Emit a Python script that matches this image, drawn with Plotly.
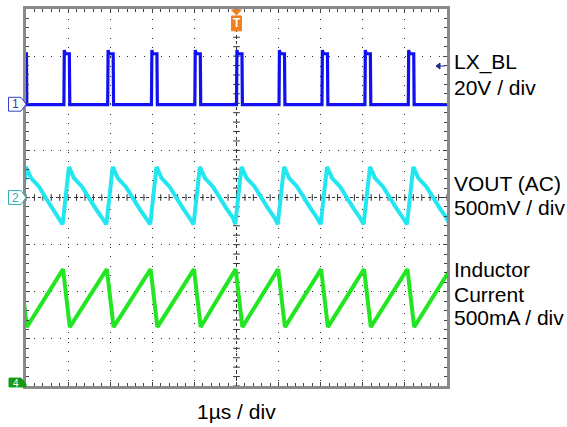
import plotly.graph_objects as go

# ---- data read from the scope capture (x in µs, y in divisions) ----
lx_edges_us = [-5.12, -4.10, -3.06, -2.02, -0.99, 0.00, 1.01, 2.03, 3.05, 4.08, 5.10]
lx_low_div = 1.97
lx_high_div = 3.05
lx_overshoot_div = 3.13
lx_width_us = 0.14

# VOUT (AC) shape per switching cycle: (time after LX rising edge, level)
vout_t_rel = [-0.03, 0.12, 0.24, 0.43, 0.59, 0.75, 0.91]
vout_level = [-0.57, 0.65, 0.41, 0.23, -0.01, -0.23, -0.44]

# inductor current per cycle: peak just before edge, valley at LX falling edge
il_t_rel = [-0.02, 0.14]
il_level = [-1.52, -2.75]

labels_right = ["LX_BL", "20V / div", "VOUT (AC)", "500mV / div",
                "Inductor", "Current", "500mA / div"]
label_y_px = [59, 85, 182, 206, 269, 294, 317]
x_label = "1µs / div"

# ---- build waveforms ----
lx_x, lx_y = [], []
for e in lx_edges_us:
    lx_x += [e, e + 0.01, e + 0.03, e + lx_width_us - 0.01, e + lx_width_us]
    lx_y += [lx_low_div, lx_overshoot_div, lx_high_div, lx_high_div, lx_low_div]

vo_x, vo_y = [], []
for e in lx_edges_us:
    for dt, v in zip(vout_t_rel, vout_level):
        vo_x.append(e + dt)
        vo_y.append(v)

il_x, il_y = [], []
for e in lx_edges_us:
    for dt, v in zip(il_t_rel, il_level):
        il_x.append(e + dt)
        il_y.append(v)

fig = go.Figure()
fig.add_trace(go.Scatter(x=lx_x, y=lx_y, mode="lines",
                         line=dict(color="#1010f0", width=3.2), hoverinfo="skip"))
fig.add_trace(go.Scatter(x=vo_x, y=vo_y, mode="lines",
                         line=dict(color="#22e6f0", width=4), hoverinfo="skip"))
fig.add_trace(go.Scatter(x=il_x, y=il_y, mode="lines",
                         line=dict(color="#22e622", width=4), hoverinfo="skip"))

# ---- geometry helpers (pixels -> paper) ----
L, R, T, B = 26, 447, 6, 386
W, H = R - L, B - T
def px(x):
    return (x - L) / W
def py(y):
    return (B - y) / H

shapes = []
# center crosshair
shapes.append(dict(type="line", xref="x", yref="y", x0=-5, x1=5, y0=0, y1=0,
                   line=dict(color="#333", width=1, dash="dot"), layer="below"))
shapes.append(dict(type="line", xref="x", yref="y", x0=0, x1=0, y0=-4, y1=4,
                   line=dict(color="#333", width=1, dash="dot"), layer="below"))
for i in range(-25, 26):
    xv = i * 0.2
    shapes.append(dict(type="line", xref="x", yref="y", x0=xv, x1=xv, y0=-0.07, y1=0.07,
                       line=dict(color="#333", width=1), layer="below"))
for i in range(-20, 21):
    yv = i * 0.2
    shapes.append(dict(type="line", xref="x", yref="y", x0=-0.08, x1=0.08, y0=yv, y1=yv,
                       line=dict(color="#333", width=1), layer="below"))

def path(points):
    s = "M " + " L ".join(f"{px(a):.5f},{py(b):.5f}" for a, b in points) + " Z"
    return s

# channel markers
shapes.append(dict(type="path", xref="paper", yref="paper",
                   path=path([(8.5, 95), (21, 95), (26, 102), (21, 109), (8.5, 109)]),
                   line=dict(color="#3040c8", width=1), fillcolor="white"))
shapes.append(dict(type="path", xref="paper", yref="paper",
                   path=path([(8.5, 189), (21, 189), (26, 196), (21, 203), (8.5, 203)]),
                   line=dict(color="#30b0b0", width=1), fillcolor="white"))
shapes.append(dict(type="path", xref="paper", yref="paper",
                   path=path([(9, 387), (9, 378), (21, 378), (26, 384), (26, 387)]),
                   line=dict(color="#149a14", width=1), fillcolor="#149a14"))
# trigger marker
shapes.append(dict(type="path", xref="paper", yref="paper",
                   path=path([(231.5, 7), (241.5, 7), (236.5, 12)]),
                   line=dict(color="#f08020", width=1), fillcolor="#f08020"))
shapes.append(dict(type="rect", xref="paper", yref="paper",
                   x0=px(231.5), x1=px(241.5), y0=py(28), y1=py(13),
                   line=dict(color="#f08020", width=1), fillcolor="#f08020"))
# trigger level arrow
shapes.append(dict(type="path", xref="paper", yref="paper",
                   path=path([(436, 63.5), (440, 60.5), (440, 66.5)]),
                   line=dict(color="#1a2a99", width=1), fillcolor="#1a2a99"))
shapes.append(dict(type="line", xref="paper", yref="paper",
                   x0=px(439), x1=px(445), y0=py(63.5), y1=py(63.5),
                   line=dict(color="#1a2a99", width=1)))

annotations = []
font = "Liberation Sans, Arial, sans-serif"
for txt, yp in zip(labels_right, label_y_px):
    annotations.append(dict(text=txt, xref="paper", yref="paper", x=px(452), y=py(yp),
                            xanchor="left", yanchor="middle", showarrow=False,
                            font=dict(family=font, size=21, color="black")))
annotations.append(dict(text=x_label, xref="paper", yref="paper", x=0.5, y=py(412),
                        xanchor="center", yanchor="middle", showarrow=False,
                        font=dict(family=font, size=21, color="black")))
annotations.append(dict(text="1", xref="paper", yref="paper", x=px(15), y=py(102),
                        xanchor="center", yanchor="middle", showarrow=False,
                        font=dict(family=font, size=12, color="#3040c8")))
annotations.append(dict(text="2", xref="paper", yref="paper", x=px(15), y=py(196),
                        xanchor="center", yanchor="middle", showarrow=False,
                        font=dict(family=font, size=12, color="#30b0b0")))
annotations.append(dict(text="4", xref="paper", yref="paper", x=px(16), y=py(383),
                        xanchor="center", yanchor="middle", showarrow=False,
                        font=dict(family=font, size=10, color="white")))
annotations.append(dict(text="<b>T</b>", xref="paper", yref="paper", x=px(236.5), y=py(20.5),
                        xanchor="center", yanchor="middle", showarrow=False,
                        font=dict(family=font, size=12, color="white")))

axis_common = dict(showticklabels=False, zeroline=False, showline=True,
                   linecolor="#8a8a8a", linewidth=2.5, mirror="allticks",
                   ticks="inside", ticklen=4, tickcolor="#444", dtick=1,
                   minor=dict(ticks="inside", dtick=0.2, ticklen=3, tickcolor="#444",
                              showgrid=False),
                   showgrid=True, gridcolor="#333", gridwidth=1, fixedrange=True)

fig.update_layout(
    width=567, height=427, autosize=False,
    margin=dict(l=L, r=567 - R, t=T, b=427 - B),
    paper_bgcolor="white", plot_bgcolor="white",
    showlegend=False,
    xaxis=dict(range=[-5, 5], tick0=0, griddash="1px,8.5px", **axis_common),
    yaxis=dict(range=[-4, 4], tick0=0, griddash="1px,7.42px", **axis_common),
    shapes=shapes, annotations=annotations,
)
fig.write_html("out.html", config={"displayModeBar": False},
               post_script="document.body.style.margin='0';document.body.style.overflow='hidden';")
